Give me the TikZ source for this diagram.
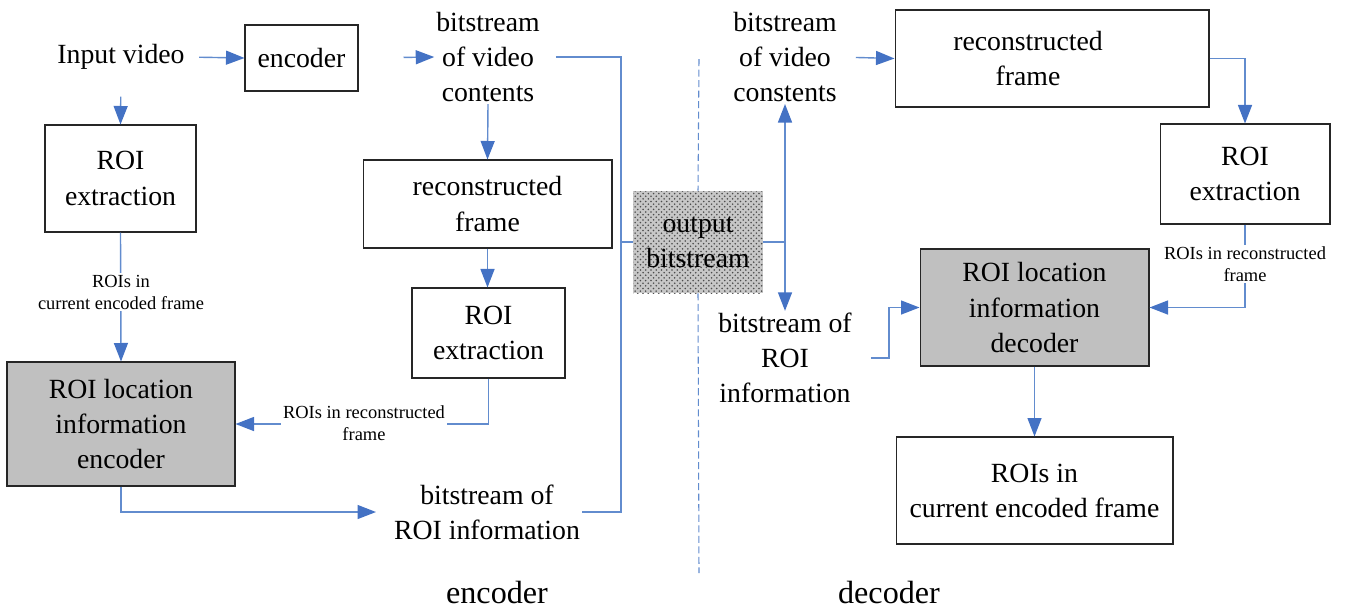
\documentclass[tikz,border=0pt]{standalone}
\usepackage{fontspec}
\setmainfont{Liberation Serif}
\usetikzlibrary{arrows.meta,patterns}
\definecolor{linkblue}{RGB}{98,140,206}
\definecolor{tipblue}{RGB}{68,114,196}
\definecolor{boxgray}{RGB}{192,192,192}
\begin{document}
\begin{tikzpicture}[x=0.02cm,y=-0.02cm,
  txt/.style={align=center,inner sep=1pt,font=\fontsize{15.8}{20}\selectfont},
  box/.style={txt,draw=black!85,line width=0.6pt},
  graybox/.style={box,fill=boxgray},
  small/.style={align=center,inner sep=1pt,fill=white,font=\fontsize{10.5}{12.5}\selectfont},
  caption/.style={font=\fontsize{18.3}{22}\selectfont},
  link/.style={draw=linkblue,line width=0.8pt},
  arr/.style={link,-{Triangle[length=0.37cm,width=0.28cm,color=tipblue]}},
  divider/.style={draw=linkblue,line width=0.6pt,dash pattern=on 4pt off 2pt}]
\useasboundingbox (0,0) rectangle (1348,610);
\node[txt] (inp) at (121,57) {Input video};
\node[box,minimum width=2.26cm,minimum height=1.32cm] (enc) at (301.5,58) {encoder};
\node[txt] (bsL) at (488,57) {bitstream\\of video\\contents};
\node[box,minimum width=3.02cm,minimum height=2.14cm] (roiL) at (120.5,178.5) {ROI\\extraction};
\node[box,minimum width=4.98cm,minimum height=1.76cm] (recL) at (487.5,204) {reconstructed\\frame};
\node[box,minimum width=3.06cm,minimum height=1.8cm] (roiM) at (488.5,333) {ROI\\extraction};
\node[graybox,minimum width=4.56cm,minimum height=2.48cm] (encL) at (121,424) {ROI location\\information\\encoder};
\node[txt] (bsroiL) at (487,512) {bitstream of\\ROI information};
\node[txt,minimum width=2.6cm,minimum height=2.04cm,preaction={fill=black!22},pattern=crosshatch dots,pattern color=black!70] (outb) at (698,242) {output\\bitstream};
\node[txt] (bsR) at (785,57) {bitstream\\of video\\constents};
\node[txt] (bsroiR) at (785,358) {bitstream of\\ROI\\information};
\node[box,minimum width=6.28cm,minimum height=1.94cm] (recR) at (1052,58.5) {reconstructed\hspace*{0.96cm}\\frame\hspace*{0.96cm}};
\node[box,minimum width=3.4cm,minimum height=2cm] (roiR) at (1245,174) {ROI\\extraction};
\node[graybox,minimum width=4.58cm,minimum height=2.34cm] (decR) at (1034.5,307.5) {ROI location\\information\\decoder};
\node[box,minimum width=5.54cm,minimum height=2.14cm] (roisR) at (1034.5,490.5) {ROIs in\\current encoded frame};
\coordinate (busL) at (621,242);
\coordinate (busR) at (785,242);
\coordinate (kink) at (889,307.5);
\coordinate (divtop) at (699,59);
\coordinate (divbot) at (699,573);
\draw[arr,shorten <=0.25cm] (inp.east) -- (enc.west);
\draw[arr,shorten <=0.9cm] (enc.east) -- (bsL.west);
\draw[arr,shorten <=0.5cm] (inp.south) -- (roiL.north);
\draw[arr] (roiL.south) -- (encL.north);
\draw[arr] (bsL.south) -- (recL.north);
\draw[arr] (recL.south) -- (recL.south |- roiM.north);
\draw[arr] (roiM.south) |- (encL.east);
\draw[arr,shorten >=0.32cm] (encL.south) |- (bsroiL.west);
\draw[link,shorten <=0.28cm] (bsL.east) -| (busL) |- (bsroiL.east);
\draw[link] (busL) -- (outb.west);
\draw[link] (outb.east) -- (busR);
\draw[arr] (busR) -- (bsR.south);
\draw[arr] (busR) -- (bsroiR.north);
\draw[divider] (divtop) -- (outb.north);
\draw[divider] (outb.south) -- (divbot);
\draw[arr,shorten <=0.34cm] (bsR.east) -- (recR.west);
\draw[arr] (recR.east) -| (roiR.north);
\draw[arr] (roiR.south) |- (decR.east);
\draw[arr,shorten <=0.34cm] (bsroiR.east) -| (kink) -- (decR.west);
\draw[arr] (decR.south) -- (roisR.north);
\node[small] (lab1) at (121,292) {ROIs in\\current encoded frame};
\node[small] (lab2) at (364,423) {ROIs in reconstructed\\frame};
\node[small] (lab3) at (1245,264) {ROIs in reconstructed\\frame};
\node[caption] (capenc) at (497,592) {encoder};
\node[caption] (capdec) at (889,592) {decoder};
\end{tikzpicture}
\end{document}
